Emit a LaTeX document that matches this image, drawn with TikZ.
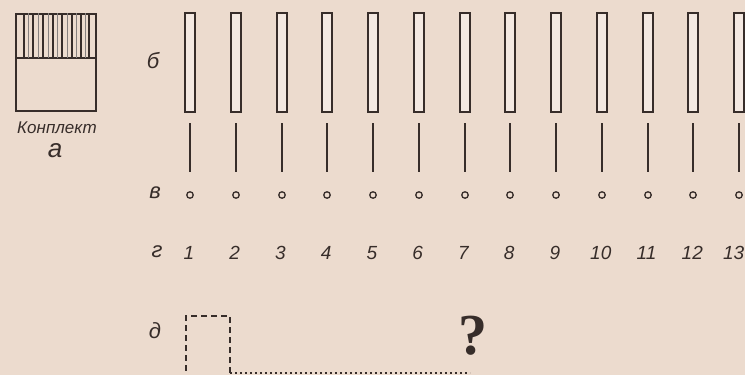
\documentclass[tikz,border=0pt]{standalone}
\usepackage{fontspec}
\setmainfont{Liberation Sans}
\newfontfamily\qfont{Liberation Serif}
\definecolor{paper}{RGB}{236,219,206}
\definecolor{ink}{RGB}{55,45,42}
\begin{document}
\begin{tikzpicture}[x=1pt,y=-1pt,
  ink line/.style={draw=ink,line width=1.6pt},
  bar/.style={draw=ink,line width=1.6pt,minimum width=10pt,minimum height=99pt,inner sep=0pt,fill=paper!60!white},
  ring/.style={draw=ink,line width=1.3pt,circle,minimum size=6.5pt,inner sep=0pt},
  lbl/.style={text=ink,font=\fontsize{22}{22}\selectfont\itshape,inner sep=0pt},
  num/.style={text=ink,font=\fontsize{19}{19}\selectfont\itshape,inner sep=0pt}]
\fill[paper] (0,0) rectangle (745,375);
\useasboundingbox (0,0) rectangle (745,375);
% left box
\node[draw=ink,line width=1.6pt,minimum width=80pt,minimum height=97pt,inner sep=0pt,anchor=north west] (kit) at (15,13) {};
\coordinate (divL) at (15,58);
\coordinate (divR) at (95,58);
\draw[ink line] (divL) -- (divR);
\foreach \xx in {24,33,43,53,62,72,81,89} {\draw[draw=ink,line width=1.3pt] (\xx,13) -- (\xx,58);}
\foreach \xx in {28.5,38,48,57.5,67,76.5,85} {\draw[draw=ink!60,line width=0.6pt] (\xx,13) -- (\xx,58);}
\node[text=ink,font=\fontsize{17}{17}\selectfont\itshape,inner sep=0pt] (kittext) at (57,128) {Конплект};
\node[text=ink,font=\fontsize{26}{26}\selectfont\itshape,inner sep=0pt] (la) at (55,151) {а};
% labels
\node[lbl] (lb) at (153,61) {б};
\node[lbl] (lv) at (155,193) {в};
\node[lbl] (lg) at (157,252) {г};
\node[lbl] (ld) at (155,331) {д};
% bars, lines, rings, numbers
\foreach \i in {1,...,13} {
  \pgfmathsetmacro{\xc}{round(190+45.75*(\i-1))}
  \node[bar] (bar\i) at (\xc,62.5) {};
  \coordinate (lt\i) at (\xc,123);
  \coordinate (lb\i) at (\xc,172);
  \draw[ink line] (lt\i) -- (lb\i);
  \node[ring] (ring\i) at (\xc,195) {};
}
\foreach \i in {1,...,12} {
  \pgfmathsetmacro{\xc}{190+45.75*(\i-1)-1}
  \node[num] (n\i) at (\xc,253) {\i};
}
\node[num,anchor=east] (n13) at (744.5,253) {13};
% dashed box and dotted line
\draw[draw=ink,line width=1.6pt,dash pattern=on 6pt off 4pt] (230,373) -- (230,316) -- (186,316) -- (186,376);
\coordinate (dotA) at (230,373);
\coordinate (dotB) at (470,373);
\draw[draw=ink,line width=1.3pt,dash pattern=on 2pt off 3pt] (dotA) -- (dotB);
\node[text=ink,font=\fontsize{58}{58}\selectfont\qfont\bfseries,inner sep=0pt] (q) at (473,336) {?};
\end{tikzpicture}
\end{document}
